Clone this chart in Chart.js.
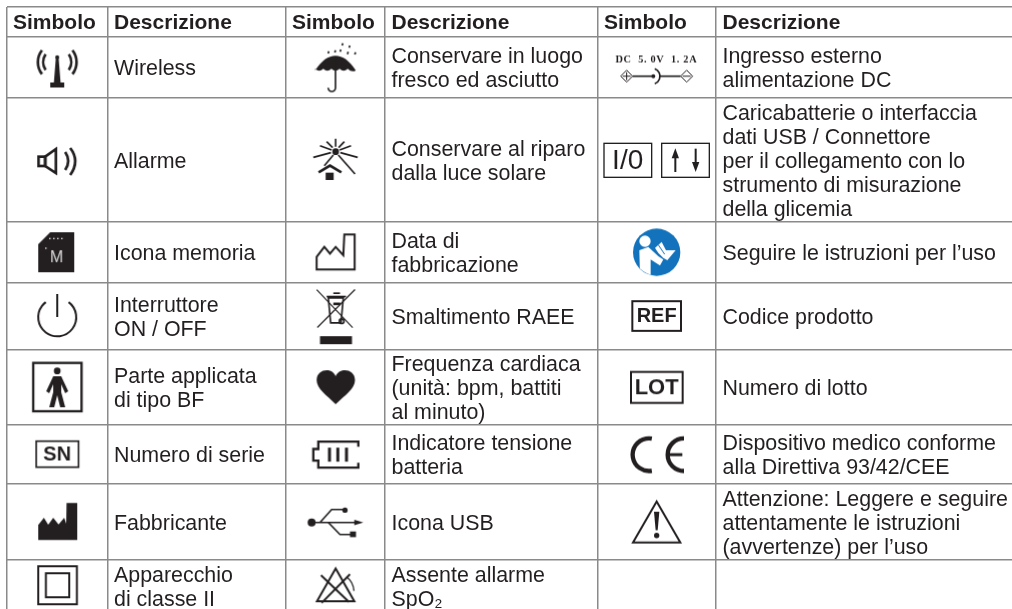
<!DOCTYPE html>
<html>
<head>
<meta charset="utf-8">
<title>Simboli</title>
<script src="https://cdn.jsdelivr.net/npm/chart.js@4"></script>
<style>
  html, body { margin: 0; padding: 0; background: #fff; }
  canvas { display: block; }
</style>
</head>
<body>
<canvas id="chart" width="1012" height="609"></canvas>
<script>
// Table data
const colEdges = [7, 107.5, 286, 385, 598, 716, 1012];
const rowEdges = [7, 37, 98, 222, 282.5, 349.5, 425, 484, 559.5, 613];
const headerLabels = ['Simbolo', 'Descrizione', 'Simbolo', 'Descrizione', 'Simbolo', 'Descrizione'];

const symbolsA = ['wireless', 'alarm', 'memory', 'power', 'bodyBF', 'serial', 'factory', 'classII'];
const symbolsB = ['umbrella', 'sunHouse', 'dateMade', 'weee', 'heart', 'battery', 'usb', 'noAlarm'];
const symbolsC = ['dcInput', 'ioPorts', 'manual', 'ref', 'lot', 'ce', 'warning', null];

const descA = ['Wireless', 'Allarme', 'Icona memoria', 'Interruttore\nON / OFF', 'Parte applicata\ndi tipo BF',
  'Numero di serie', 'Fabbricante', 'Apparecchio\ndi classe II'];
const descB = ['Conservare in luogo\nfresco ed asciutto', 'Conservare al riparo\ndalla luce solare', 'Data di\nfabbricazione',
  'Smaltimento RAEE', 'Frequenza cardiaca\n(unità: bpm, battiti\nal minuto)', 'Indicatore tensione\nbatteria', 'Icona USB',
  'Assente allarme\nSpO₂'];
const descC = ['Ingresso esterno\nalimentazione DC',
  'Caricabatterie o interfaccia\ndati USB / Connettore\nper il collegamento con lo\nstrumento di misurazione\ndella glicemia',
  'Seguire le istruzioni per l’uso', 'Codice prodotto', 'Numero di lotto',
  'Dispositivo medico conforme\nalla Direttiva 93/42/CEE',
  'Attenzione: Leggere e seguire\nattentamente le istruzioni\n(avvertenze) per l’uso', ''];

const INK = '#231f20';
const FONT = '"Liberation Sans", Arial, sans-serif';
const deg = d => d * Math.PI / 180;

// Path helpers for the glyphs
function poly(c, pts, close) {
  c.beginPath();
  pts.forEach((p, i) => i ? c.lineTo(p[0], p[1]) : c.moveTo(p[0], p[1]));
  if (close) c.closePath();
}
function line(c, x1, y1, x2, y2) {
  c.beginPath(); c.moveTo(x1, y1); c.lineTo(x2, y2); c.stroke();
}
function dot(c, x, y, r) {
  c.beginPath(); c.arc(x, y, r, 0, Math.PI * 2); c.fill();
}

// Glyphs are drawn around the cell centre, in 1/3 pixel units
const glyphs = {
  wireless(c) {
    poly(c, [[-4, -31], [4, -31], [10, 45], [21, 45], [21, 60], [-21, 60], [-21, 45], [-10, 45]], true); c.fill();
    dot(c, 0, -31, 6);
    c.lineWidth = 8;
    c.beginPath(); c.arc(0, -16, 42, deg(-34), deg(34)); c.stroke();
    c.beginPath(); c.arc(0, -16, 42, deg(146), deg(214)); c.stroke();
    c.beginPath(); c.arc(0, -16, 58, deg(-38), deg(38)); c.stroke();
    c.beginPath(); c.arc(0, -16, 58, deg(142), deg(218)); c.stroke();
  },
  alarm(c) {
    c.lineWidth = 8;
    c.strokeRect(-56, -10, 20, 28);
    poly(c, [[-36, -10], [-4, -33], [-4, 39], [-36, 18]], true); c.stroke();
    c.beginPath(); c.moveTo(24, -24); c.quadraticCurveTo(42, 3, 24, 30); c.stroke();
    c.beginPath(); c.moveTo(39, -36); c.quadraticCurveTo(69, 3, 39, 45); c.stroke();
  },
  memory(c) {
    poly(c, [[-57, -24], [-21, -60], [51, -60], [51, 60], [-57, 60]], true); c.fill();
    c.fillStyle = '#fff';
    [-24, -12, 0, 12].forEach(x => c.fillRect(x, -43, 4, 4));
    c.fillRect(-36, -14, 4, 4);
    c.fillStyle = '#d8d8d8';
    c.font = '48px ' + FONT;
    c.textAlign = 'center'; c.textBaseline = 'middle';
    c.fillText('M', -2, 18);
  },
  power(c) {
    c.lineWidth = 6;
    c.beginPath(); c.arc(0, 4, 57, deg(-53), deg(-127)); c.stroke();
    line(c, 0, -66, 0, 3);
  },
  bodyBF(c) {
    c.lineWidth = 7;
    c.strokeRect(-72, -73, 145, 145);
    dot(c, 0, -49, 10);
    poly(c, [[-12, -33], [12, -33], [33, 12], [24, 18], [12, -9], [12, 15], [24, 60], [9, 60], [0, 24],
      [-9, 60], [-24, 60], [-12, 15], [-12, -9], [-24, 18], [-33, 12]], true);
    c.fill();
  },
  serial(c) {
    c.lineWidth = 5;
    c.strokeRect(-63, -40, 127, 78);
    c.font = 'bold 60px ' + FONT;
    c.textAlign = 'center'; c.textBaseline = 'middle';
    c.fillText('SN', 0, 0);
  },
  factory(c) {
    poly(c, [[-57, 55], [-57, 10], [-40, -12], [-27, 9], [-12, -12], [4, 8], [21, -12], [27, 6], [28, -56],
      [60, -56], [60, 55]], true);
    c.fill();
  },
  classII(c) {
    c.lineWidth = 6;
    c.strokeRect(-57, -60, 116, 114);
    c.strokeRect(-34, -39, 70, 72);
  },
  umbrella(c) {
    c.beginPath();
    c.moveTo(-61, 9);
    c.bezierCurveTo(-42, -21, -21, -35, 0, -35);
    c.bezierCurveTo(21, -35, 42, -21, 61, 9);
    for (let i = 1; i <= 5; i++) {
      c.quadraticCurveTo(61 - (i - 0.5) * 24.4, 16, 61 - i * 24.4, 4);
    }
    c.closePath(); c.fill();
    c.lineWidth = 5;
    c.beginPath(); c.moveTo(0, -33); c.lineTo(0, 61); c.arc(-11, 61, 11, 0, Math.PI); c.stroke();
    c.lineWidth = 5;
    [[-22, -42], [-2, -45], [20, -66], [14, -47], [41, -59], [36, -40], [58, -39]].forEach(d => {
      line(c, d[0], d[1], d[0] + 2, d[1] - 7);
    });
  },
  sunHouse(c) {
    c.translate(-151.5, -480);
    dot(c, 152, 455, 10);
    c.lineWidth = 5;
    line(c, 152, 416, 152, 440);
    [[125, 425, 143, 443], [178, 425, 161, 443], [105, 437, 140, 450], [198, 437, 164, 450],
      [85, 472, 138, 458], [218, 472, 166, 458], [118, 497, 145, 465], [210, 522, 160, 465]].forEach(r => {
      line(c, r[0], r[1], r[2], r[3]);
    });
    c.lineWidth = 8;
    poly(c, [[101, 517], [135, 497], [169, 517]]); c.stroke();
    c.fillRect(122, 518, 24, 22);
  },
  dateMade(c) {
    c.translate(-151.5, -156);
    c.lineWidth = 6;
    poly(c, [[95, 208], [95, 170], [118, 140], [135, 160], [152, 140], [175, 165], [178, 103], [209, 103], [209, 208]], true);
    c.stroke();
  },
  weee(c) {
    c.translate(-151.5, -347.4);
    c.lineWidth = 3.5;
    line(c, 95, 268, 203, 382);
    line(c, 210, 268, 97, 382);
    c.lineWidth = 5;
    poly(c, [[130, 293], [175, 293], [168, 368], [137, 368]], true); c.stroke();
    line(c, 125, 289, 183, 289);
    line(c, 145, 279, 165, 279);
    c.fillRect(145, 307, 21, 8);
    c.beginPath(); c.arc(170, 363, 7, 0, Math.PI * 2); c.stroke();
    c.fillRect(105, 408, 96, 24);
  },
  heart(c) {
    c.translate(-151.5, -561);
    c.beginPath();
    c.moveTo(152, 612);
    c.bezierCurveTo(125, 585, 95, 565, 95, 540);
    c.bezierCurveTo(95, 520, 110, 510, 125, 510);
    c.bezierCurveTo(140, 510, 148, 518, 152, 528);
    c.bezierCurveTo(156, 518, 165, 510, 180, 510);
    c.bezierCurveTo(195, 510, 210, 520, 210, 540);
    c.bezierCurveTo(210, 565, 180, 585, 152, 612);
    c.fill();
  },
  battery(c) {
    c.translate(-151.5, -163.5);
    c.lineWidth = 7;
    poly(c, [[220, 140], [220, 125], [100, 125], [100, 147], [85, 147], [85, 182], [100, 182], [100, 203], [220, 203], [220, 188]]);
    c.stroke();
    [129, 154, 180].forEach(x => c.fillRect(x, 143, 9, 42));
  },
  usb(c) {
    c.translate(-151.5, -364.8);
    c.lineWidth = 5;
    dot(c, 80, 367, 12);
    line(c, 80, 367, 212, 367);
    poly(c, [[235, 367], [208, 359], [208, 375]], true); c.fill();
    poly(c, [[105, 367], [140, 328], [175, 328]]); c.stroke();
    dot(c, 180, 330, 8);
    poly(c, [[130, 367], [165, 403], [197, 403]]); c.stroke();
    c.fillRect(195, 394, 18, 17);
  },
  noAlarm(c) {
    c.translate(-151.5, -558);
    c.lineWidth = 6;
    poly(c, [[152, 505], [208, 603], [96, 603]], true); c.stroke();
    line(c, 108, 525, 192, 605);
    line(c, 195, 522, 110, 608);
    c.lineWidth = 4;
    c.beginPath(); c.moveTo(185, 530); c.quadraticCurveTo(205, 545, 207, 572); c.stroke();
  },
  dcInput(c) {
    c.translate(-201, -201.9);
    c.font = 'bold 31px "Liberation Serif", serif';
    c.textAlign = 'center'; c.textBaseline = 'middle';
    c.letterSpacing = '2px';
    c.fillText('DC  5. 0V  1. 2A', 199, 180, 268);
    c.letterSpacing = '0px';
    c.lineWidth = 3;
    [110, 290].forEach(x => {
      poly(c, [[x - 18, 228], [x, 210], [x + 18, 228], [x, 246]], true); c.stroke();
    });
    line(c, 98, 228, 122, 228);
    line(c, 110, 216, 110, 240);
    line(c, 278, 228, 302, 228);
    c.lineWidth = 5;
    line(c, 128, 228, 190, 228);
    dot(c, 190, 228, 6);
    line(c, 210, 228, 272, 228);
    c.beginPath(); c.arc(186, 228, 24, deg(-70), deg(70)); c.stroke();
  },
  ioPorts(c) {
    c.translate(-201, -480);
    c.lineWidth = 4;
    c.strokeRect(42, 430, 143, 102);
    c.strokeRect(215, 430, 143, 102);
    c.font = '84px ' + FONT;
    c.textAlign = 'center'; c.textBaseline = 'middle';
    c.fillText('I/0', 113, 483);
    c.lineWidth = 6;
    line(c, 256, 470, 256, 516);
    poly(c, [[256, 445], [245, 475], [267, 475]], true); c.fill();
    line(c, 317, 446, 317, 492);
    poly(c, [[317, 516], [306, 486], [328, 486]], true); c.fill();
  },
  manual(c) {
    c.translate(-201, -96);
    c.fillStyle = '#1272bb';
    dot(c, 200, 96, 71);
    c.save();
    c.beginPath(); c.arc(200, 96, 70, 0, Math.PI * 2); c.clip();
    c.fillStyle = '#fff';
    dot(c, 165, 63, 17);
    poly(c, [[148, 90], [175, 80], [205, 108], [220, 118], [210, 136], [182, 118], [182, 170], [150, 170]], true); c.fill();
    poly(c, [[195, 83], [215, 65], [228, 90], [257, 90], [232, 120], [220, 113], [205, 98]], true); c.fill();
    c.strokeStyle = '#1272bb'; c.lineWidth = 3;
    line(c, 205, 74, 224, 102);
    c.restore();
  },
  ref(c) {
    c.translate(-201, -287.4);
    c.lineWidth = 6;
    c.strokeRect(127, 243, 146, 89);
    c.font = 'bold 60px ' + FONT;
    c.textAlign = 'center'; c.textBaseline = 'middle';
    c.fillText('REF', 200, 290);
  },
  lot(c) {
    c.translate(-201, -501);
    c.lineWidth = 6;
    c.strokeRect(123, 455, 155, 93);
    c.font = 'bold 66px ' + FONT;
    c.textAlign = 'center'; c.textBaseline = 'middle';
    c.fillText('LOT', 200, 503);
  },
  ce(c) {
    c.translate(-201, -133.5);
    c.lineWidth = 13;
    c.beginPath(); c.arc(177, 134, 49, deg(80), deg(280)); c.stroke();
    c.beginPath(); c.arc(282, 134, 49, deg(90), deg(270)); c.stroke();
    c.lineWidth = 9;
    line(c, 235, 134, 277, 134);
  },
  warning(c) {
    c.translate(-201, -334.8);
    c.lineWidth = 6;
    poly(c, [[200, 274], [271, 397], [129, 397]], true); c.stroke();
    poly(c, [[192, 305], [208, 305], [203, 360], [197, 360]], true); c.fill();
    dot(c, 200, 376, 8);
  }
};

// Each glyph becomes an offscreen canvas used as a point style
function glyphCanvas(name) {
  const cv = document.createElement('canvas');
  cv.width = 130;
  cv.height = 90;
  const c = cv.getContext('2d');
  c.translate(65, 45);
  c.scale(1 / 3, 1 / 3);
  c.fillStyle = INK;
  c.strokeStyle = INK;
  c.lineJoin = 'miter';
  glyphs[name](c);
  return cv;
}

// One scatter point per symbol, at the middle of its cell
const midCol = i => (colEdges[i] + colEdges[i + 1]) / 2;
const midRow = i => (rowEdges[i] + rowEdges[i + 1]) / 2;
const points = [];
const styles = [];
[symbolsA, symbolsB, symbolsC].forEach((list, col) => {
  list.forEach((name, row) => {
    if (!name) return;
    points.push({ x: midCol(col * 2), y: midRow(row + 1) });
    styles.push(glyphCanvas(name));
  });
});

// Header and description text
const tableText = {
  id: 'tableText',
  afterDatasetsDraw(chart) {
    const { ctx, scales: { x, y } } = chart;
    ctx.save();
    ctx.fillStyle = INK;
    ctx.textAlign = 'left';
    ctx.textBaseline = 'middle';

    ctx.font = 'bold 21px ' + FONT;
    headerLabels.forEach((label, i) => {
      ctx.fillText(label, x.getPixelForValue(colEdges[i]) + (i % 2 ? 6.5 : 6), y.getPixelForValue(midRow(0)) + 1);
    });

    ctx.font = '21.4px ' + FONT;
    [descA, descB, descC].forEach((list, col) => {
      list.forEach((text, row) => {
        const lines = text.split('\n');
        const left = x.getPixelForValue(colEdges[col * 2 + 1]) + 6.5;
        const mid = y.getPixelForValue(midRow(row + 1));
        lines.forEach((l, n) => {
          ctx.fillText(l, left, mid + (n - (lines.length - 1) / 2) * 24 + 2);
        });
      });
    });
    ctx.restore();
  }
};

const gridOptions = { color: '#8a8a8a', lineWidth: 1.5, drawTicks: false };

new Chart(document.getElementById('chart'), {
  type: 'scatter',
  data: {
    datasets: [{
      data: points,
      pointStyle: styles,
      pointRadius: 1,
      pointHoverRadius: 1,
      showLine: false,
      clip: false
    }]
  },
  options: {
    responsive: false,
    animation: false,
    events: [],
    layout: { autoPadding: false, padding: { left: 7, top: 7, right: 0, bottom: 0 } },
    plugins: { legend: { display: false }, tooltip: { enabled: false } },
    scales: {
      x: {
        type: 'linear', min: 7, max: 1012,
        grid: gridOptions,
        border: { display: false },
        ticks: { display: false, autoSkip: false },
        afterBuildTicks: s => { s.ticks = colEdges.slice(0, -1).map(v => ({ value: v })); }
      },
      y: {
        type: 'linear', reverse: true, min: 7, max: 609,
        grid: gridOptions,
        border: { display: false },
        ticks: { display: false, autoSkip: false },
        afterBuildTicks: s => { s.ticks = rowEdges.slice(0, -1).map(v => ({ value: v })); }
      }
    }
  },
  plugins: [tableText]
});
</script>
</body>
</html>
